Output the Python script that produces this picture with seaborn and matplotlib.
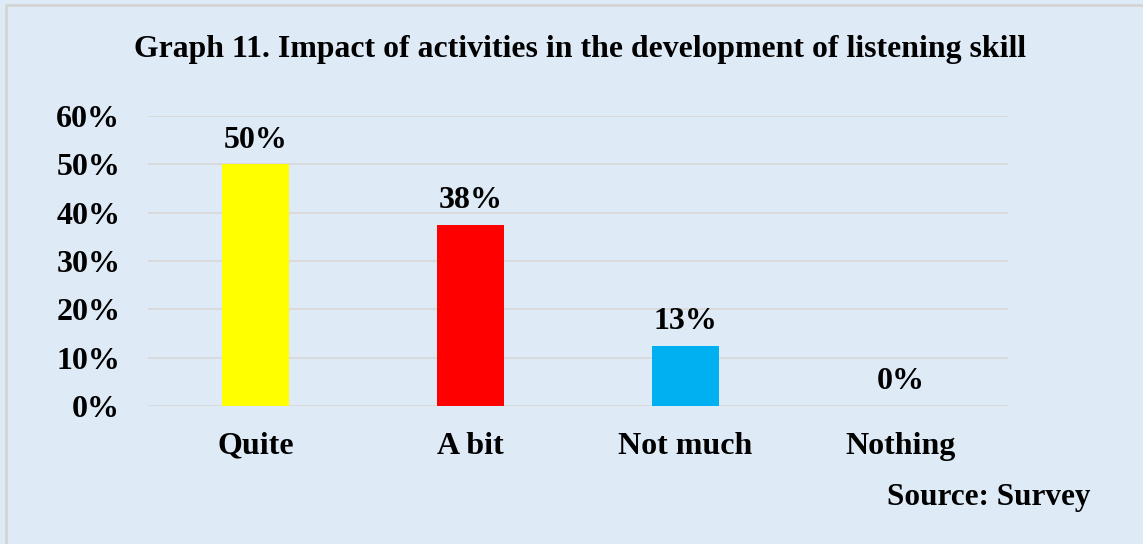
import matplotlib
matplotlib.use("Agg")
import matplotlib.pyplot as plt
import seaborn as sns
import pandas as pd
from matplotlib.patches import Rectangle
from matplotlib.ticker import FuncFormatter

categories = ["Quite", "A bit", "Not much", "Nothing"]
values = [0.50, 0.375, 0.125, 0.0]
value_labels = ["50%", "38%", "13%", "0%"]
colors = ["#FFFF00", "#FF0000", "#00B0F0", "#A5A5A5"]
yticks = [0, 0.1, 0.2, 0.3, 0.4, 0.5, 0.6]
title = "Graph 11. Impact of activities in the development of listening skill"
source = "Source: Survey"

sns.set_theme(style="white")
plt.rcParams['font.family'] = ['Liberation Serif', 'DejaVu Serif']
bg = "#DEEAF6"

fig = plt.figure(figsize=(11.43, 5.44), dpi=100, facecolor=bg)
border = Rectangle((6/1143, -0.1), 1.2, 1 - 5/544 + 0.1, transform=fig.transFigure,
                   facecolor=bg, edgecolor="#D4D4D4", linewidth=2, zorder=-10)
fig.add_artist(border)
ax = fig.add_axes([148/1143, 1 - 406/544, 860/1143, 290/544])
ax.set_facecolor("none")
ax.set_zorder(5)

df = pd.DataFrame({"cat": categories, "val": values})
sns.barplot(data=df, x="cat", y="val", hue="cat", palette=colors, width=0.316,
            legend=False, ax=ax, saturation=1, zorder=3, linewidth=0)

ax.set_ylim(0, 0.6)
ax.set_xlim(-0.5, 3.5)
ax.set_yticks(yticks)
ax.yaxis.set_major_formatter(FuncFormatter(lambda v, p: f"{v*100:.0f}%"))
ax.grid(axis="y", color="#D9D9D9", linewidth=1.3, zorder=0)
ax.set_axisbelow(True)
for s in ax.spines.values():
    s.set_visible(False)
ax.set_xlabel("")
ax.set_ylabel("")
ax.tick_params(axis="y", labelsize=23, pad=20, length=0)
ax.tick_params(axis="x", labelsize=23, pad=18.5, length=0)
for lab in ax.get_xticklabels() + ax.get_yticklabels():
    lab.set_fontweight("bold")
    lab.set_color("black")

for i, (v, t) in enumerate(zip(values, value_labels)):
    ax.annotate(t, (i, v), xytext=(0, 7), textcoords="offset points",
                ha="center", va="bottom", fontsize=23, fontweight="bold", color="black")

fig.text(580/1143, 1 - 50/544, title, ha="center", va="center", fontsize=22.9,
         fontweight="bold", color="black")
fig.text(1090/1143, 1 - 498/544, source, ha="right", va="center", fontsize=22.5,
         fontweight="bold", color="black")

fig.savefig("out.png", dpi=100, facecolor=bg)
